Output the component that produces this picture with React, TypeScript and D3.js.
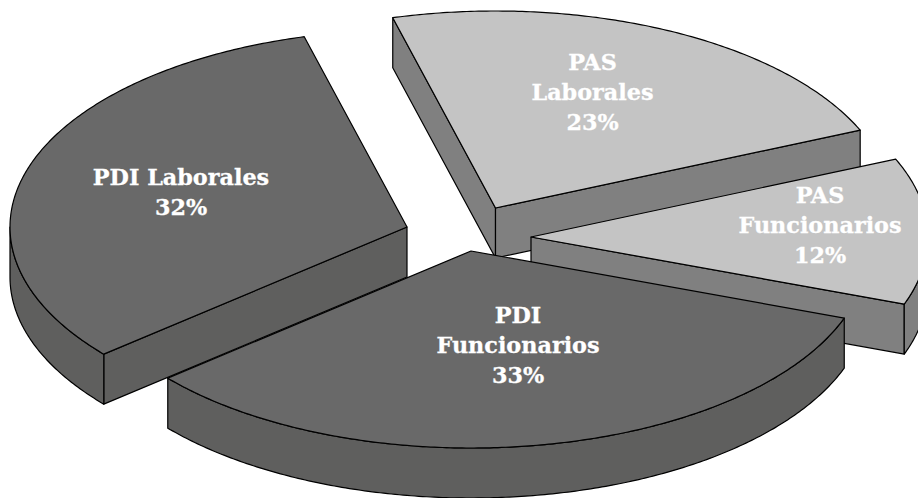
import React, { useEffect, useRef } from 'react'

import * as d3 from 'd3'

// order is clockwise from the top of the pie
const categories = ['PAS Laborales', 'PAS Funcionarios', 'PDI Funcionarios', 'PDI Laborales']
const values = [22.7, 12, 33.3, 32]
const labelLines = [
  ['PAS', 'Laborales', '23%'],
  ['PAS', 'Funcionarios', '12%'],
  ['PDI', 'Funcionarios', '33%'],
  ['PDI Laborales', '32%'],
]
const topColors = ['#c4c4c4', '#c4c4c4', '#696969', '#696969']
const wallColors = ['#808080', '#808080', '#5f5f5e', '#5f5f5e']

// exploded apex of each slice, on the picture
const apexes = [
  [495.5, 208],
  [531, 237],
  [471, 251],
  [407, 227],
]
const labelAnchors = [
  [592.5, 70],
  [820, 203],
  [518, 323],
  [181, 184.5],
]
// painter's order, back to front
const drawOrder = [0, 3, 1, 2]

const App = () => {
  const svgRef = useRef<SVGSVGElement>(null)

  useEffect(() => {
    const width = 918
    const height = 498
    const rx = 397
    const ry = 197
    const depth = 50
    const lineGap = 30

    const svg = d3.select(svgRef.current)
    svg.selectAll('*').remove()
    svg.attr('width', width).attr('height', height)

    const start = (-15 * Math.PI) / 180
    const arcs = d3
      .pie<number>()
      .sort(null)
      .startAngle(start)
      .endAngle(start + 2 * Math.PI)(values)

    // angle (clockwise from top) onto the tilted ellipse
    const project = (t: number, cx: number, cy: number): [number, number] => [
      cx + rx * Math.sin(t),
      cy - ry * Math.cos(t),
    ]
    const samples = (a: number, b: number) => {
      const n = Math.max(2, Math.ceil(Math.abs(b - a) / 0.01))
      return d3.range(n + 1).map((i) => a + ((b - a) * i) / n)
    }
    const line = d3.line()

    const draw = (pts: [number, number][], fill: string) =>
      svg
        .append('path')
        .attr('d', line(pts) + 'Z')
        .attr('fill', fill)
        .attr('stroke', '#000')
        .attr('stroke-width', 1.2)
        .attr('stroke-linejoin', 'round')

    const radialWall = (t: number, cx: number, cy: number, fill: string) => {
      const p = project(t, cx, cy)
      draw(
        [
          [cx, cy],
          p,
          [p[0], p[1] + depth],
          [cx, cy + depth],
        ],
        fill,
      )
    }

    drawOrder.forEach((i) => {
      const { startAngle, endAngle } = arcs[i]
      const [cx, cy] = apexes[i]
      const wall = wallColors[i]

      // a cut face shows only if it looks down the picture
      if (Math.sin(startAngle) < 0) radialWall(startAngle, cx, cy, wall)
      if (Math.sin(endAngle) > 0) radialWall(endAngle, cx, cy, wall)

      // outer wall, only the part facing the viewer
      const a = Math.max(startAngle, Math.PI / 2)
      const b = Math.min(endAngle, (3 * Math.PI) / 2)
      if (b > a) {
        const upper = samples(a, b).map((t) => project(t, cx, cy))
        const lower = samples(b, a).map((t) => project(t, cx, cy + depth))
        draw([...upper, ...lower], wall)
      }

      const rim = samples(startAngle, endAngle).map((t) => project(t, cx, cy))
      draw([[cx, cy], ...rim], topColors[i])
    })

    categories.forEach((name, i) => {
      const [x, y] = labelAnchors[i]
      const text = svg
        .append('text')
        .attr('aria-label', name)
        .attr('text-anchor', 'middle')
        .attr('fill', '#fff')
        .attr('stroke', '#fff')
        .attr('stroke-width', 0.3)
        .style('font-family', '"DejaVu Serif", serif')
        .style('font-weight', 'bold')
        .style('font-size', '22.3px')
      labelLines[i].forEach((l, j) => {
        text
          .append('tspan')
          .attr('x', x)
          .attr('y', y + j * lineGap)
          .text(l)
      })
    })
  }, [])

  return <svg ref={svgRef} style={{ position: 'absolute', left: 0, top: 0, display: 'block' }}></svg>
}

export default App
